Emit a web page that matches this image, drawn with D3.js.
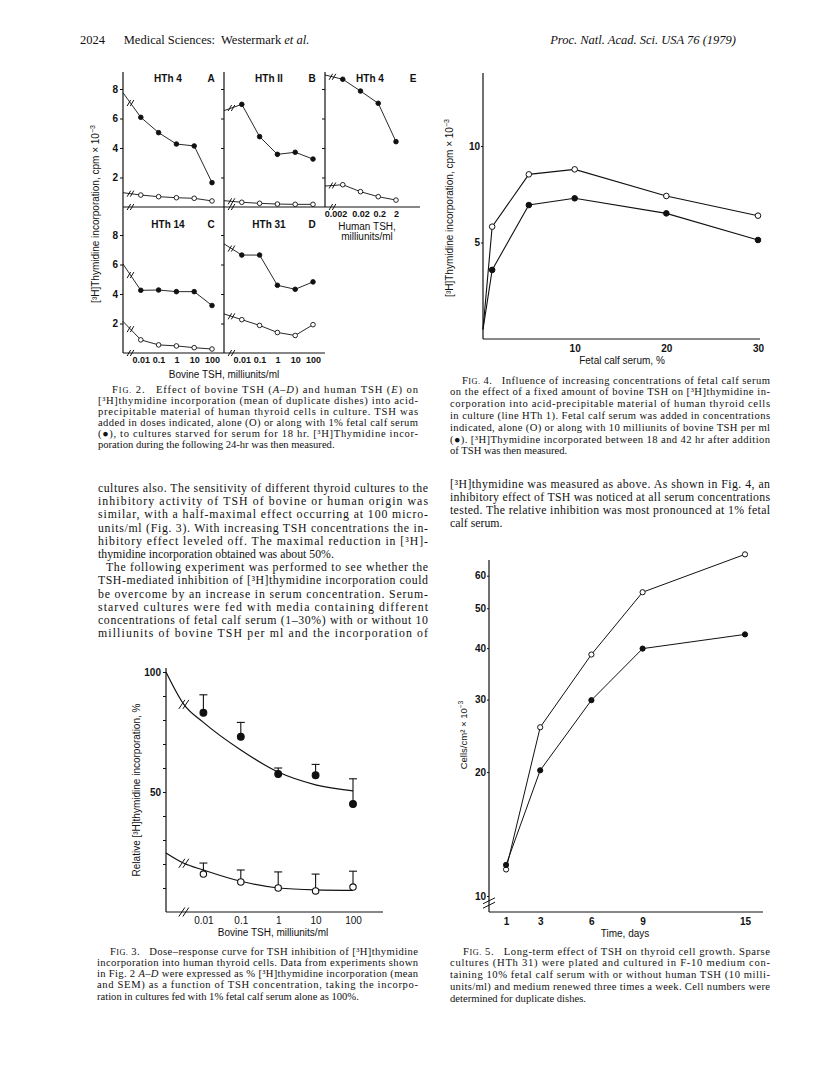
<!DOCTYPE html>
<html>
<head>
<meta charset="utf-8">
<script src="https://cdn.jsdelivr.net/npm/d3@7"></script>
<style>
  body { margin: 0; background: #fff; }
  .serif { font-family: "Liberation Serif", "DejaVu Serif", serif; white-space: pre; fill: #111; }
  .sans { font-family: "Liberation Sans", Arial, sans-serif; fill: #111; }
</style>
</head>
<body>
<div id="page"></div>
<script>
// ---- Fig. 2 data, cpm x 10^-3 (first value sits at the axis break, no marker)
var bovineDose = [0.001, 0.01, 0.1, 1, 10, 100];
var humanDose = [0.0002, 0.002, 0.02, 0.2, 2];
var hthA_serum = [7.75, 6.08, 5.04, 4.27, 4.14, 1.65];
var hthA_alone = [0.97, 0.81, 0.70, 0.63, 0.59, 0.41];
var hthB_serum = [6.53, 6.96, 4.77, 3.57, 3.71, 3.25];
var hthB_alone = [0.43, 0.32, 0.25, 0.20, 0.18, 0.18];
var hthE_serum = [8.95, 8.66, 7.86, 7.03, 4.43];
var hthE_alone = [1.42, 1.51, 1.04, 0.70, 0.47];
var hthC_serum = [6.03, 4.25, 4.27, 4.16, 4.16, 3.22];
var hthC_alone = [2.14, 0.89, 0.55, 0.48, 0.36, 0.27];
var hthD_serum = [7.40, 6.64, 6.64, 4.59, 4.32, 4.82];
var hthD_alone = [2.65, 2.26, 1.87, 1.39, 1.19, 1.92];
var panelNames = ["HTh 4", "HTh II", "HTh 4", "HTh 14", "HTh 31"];
var panelLetters = ["A", "B", "E", "C", "D"];
var fig2YTicks = [2, 4, 6, 8];
var bovineTicks = [0.01, 0.1, 1, 10, 100];
var humanTicks = [0.002, 0.02, 0.2, 2];

// ---- Fig. 3 data, relative incorporation %
var fig3Dose = [0.01, 0.1, 1, 10, 100];
var fig3SerumMean = [83, 73, 57.5, 57, 45];
var fig3SerumSem = [7.5, 6, 2.5, 4.5, 10.5];
var fig3AloneMean = [15.8, 12.5, 10, 8.8, 10.4];
var fig3AloneSem = [4.6, 5, 6.7, 7, 6.6];
var fig3CurveDose = [0.001, 0.003, 0.01, 0.1, 1, 10, 100];
var fig3SerumCurve = [100, 86.5, 79, 67.5, 58.3, 53, 50.5];
var fig3AloneCurve = [24.6, 20.3, 17.5, 12.8, 10, 9.2, 9];
var fig3YTicks = [10, 20, 30, 40, 50, 60, 70, 80, 90, 100];
var fig3YLabels = [50, 100];

// ---- Fig. 4 data, cpm x 10^-3
var serumPct = [0, 1, 5, 10, 20, 30];
var fig4Alone = [0.5, 5.82, 8.53, 8.79, 7.41, 6.39];
var fig4TSH = [0.5, 3.58, 6.94, 7.29, 6.51, 5.13];
var fig4XTicks = [10, 20, 30];
var fig4YTicks = [5, 10];

// ---- Fig. 5 data, cells/cm2 x 10^-3
var days = [1, 3, 6, 9, 15];
var fig5Alone = [11.6, 25.7, 38.6, 54.7, 67.6];
var fig5TSH = [11.9, 20.2, 29.9, 39.9, 43.2];
var fig5XTicks = [1, 3, 6, 9, 15];
var fig5YTicks = [10, 20, 30, 40, 50, 60];

var ink = "#111";

var svg = d3.select("#page")
  .append("svg")
    .attr("width", 816)
    .attr("height", 1075);

svg.append("rect").attr("width", 816).attr("height", 1075).attr("fill", "#fff");

// "//" break mark, two short strokes offset by (ox, oy)
function breakMark(g, cx, cy, w, h, ox, oy) {
  [-1, 1].forEach(function(s) {
    g.append("line")
      .attr("x1", cx + s*ox - w/2).attr("y1", cy + s*oy + h/2)
      .attr("x2", cx + s*ox + w/2).attr("y2", cy + s*oy - h/2)
      .attr("stroke", ink).attr("stroke-width", 1);
  });
}

function line(g, x1, y1, x2, y2, sw) {
  g.append("line")
    .attr("x1", x1).attr("y1", y1).attr("x2", x2).attr("y2", y2)
    .attr("stroke", ink).attr("stroke-width", sw || 1.2);
}

// *italic*  {FIG.} small caps
function addRich(t, str) {
  str.split(/(\*[^*]+\*|\{[^}]+\})/).forEach(function(part) {
    if (!part) return;
    if (part[0] === "*") {
      t.append("tspan").style("font-style", "italic").text(part.slice(1, -1));
    } else if (part[0] === "{") {
      var w = part.slice(1, -1);
      t.append("tspan").text(w[0]);
      t.append("tspan").style("font-size", "78%").text(w.slice(1));
    } else {
      t.append("tspan").text(part);
    }
  });
}

function paragraph(lines, x, y0, lead, width, size, indent, lastFull) {
  lines.forEach(function(l, i) {
    var ind = i === 0 ? indent : 0;
    var t = svg.append("text").attr("class", "serif")
      .attr("x", x + ind).attr("y", y0 + i*lead)
      .style("font-size", size + "px");
    addRich(t, l);
    if (i < lines.length - 1 || lastFull) {
      t.attr("textLength", width - ind).attr("lengthAdjust", "spacing");
    }
  });
}

function yTitle(x, y, txt, sup, size) {
  var t = svg.append("text").attr("class", "sans")
    .attr("transform", "translate(" + x + "," + y + ") rotate(-90)")
    .attr("text-anchor", "middle")
    .style("font-size", size + "px")
    .text(txt);
  if (sup) t.append("tspan").attr("dy", -4).style("font-size", (size*0.7) + "px").text(sup);
}

function styleAxis(g, size, weight) {
  g.select(".domain").remove();
  g.attr("font-family", "Liberation Sans, Arial, sans-serif")
    .attr("font-size", size)
    .attr("font-weight", weight);
  g.selectAll(".tick line").attr("stroke", ink);
  g.selectAll(".tick text").attr("fill", ink);
}

// ---------------- header
var hdr = svg.append("text").attr("class", "serif").attr("x", 80).attr("y", 44).style("font-size", "12.5px");
addRich(hdr, "2024      Medical Sciences:  Westermark *et al.*");
svg.append("text").attr("class", "serif").attr("x", 736).attr("y", 44)
  .attr("text-anchor", "end").style("font-size", "12.5px").style("font-style", "italic")
  .text("Proc. Natl. Acad. Sci. USA 76 (1979)");

// ---------------- Fig. 2
var panels = [
  {left: 123, top: 72, bottom: 207, right: 224, dose: bovineDose, serum: hthA_serum, alone: hthA_alone, yLab: true, xLab: false},
  {left: 224, top: 72, bottom: 207, right: 325, dose: bovineDose, serum: hthB_serum, alone: hthB_alone, yLab: false, xLab: false},
  {left: 325, top: 72, bottom: 207, right: 420, dose: humanDose, serum: hthE_serum, alone: hthE_alone, yLab: false, xLab: true},
  {left: 123, top: 207, bottom: 353, right: 224, dose: bovineDose, serum: hthC_serum, alone: hthC_alone, yLab: true, xLab: true},
  {left: 224, top: 207, bottom: 353, right: 325, dose: bovineDose, serum: hthD_serum, alone: hthD_alone, yLab: false, xLab: true}
];

panels.forEach(function(p, k) {
  var g = svg.append("g");
  var human = p.dose === humanDose;
  var x = d3.scaleLog()
    .domain([p.dose[0], p.dose[p.dose.length - 1]])
    .range([p.left, p.left + (human ? 71 : 89)]);
  var y = d3.scaleLinear().domain([0, 8]).range([p.bottom, p.bottom - 118]);

  line(g, p.left, p.top, p.left, p.bottom);
  line(g, p.left, p.bottom, p.right, p.bottom);

  var ya = g.append("g")
    .attr("transform", "translate(" + p.left + ",0)")
    .call(d3.axisLeft(y).tickValues(fig2YTicks).tickSize(3).tickPadding(2)
      .tickFormat(p.yLab ? d3.format("d") : function() { return ""; }));
  styleAxis(ya, 10, "bold");

  if (p.xLab) {
    var xa = g.append("g")
      .attr("transform", "translate(0," + p.bottom + ")")
      .call(d3.axisBottom(x).tickValues(human ? humanTicks : bovineTicks).tickSize(0).tickPadding(4)
        .tickFormat(function(d) { return String(d); }));
    styleAxis(xa, 9, "bold");
    if (human) {
      xa.select(".tick text").attr("text-anchor", "end").attr("dx", 4);
      xa.selectAll(".tick text").filter(function(d) { return d === 0.2; }).attr("dx", 1);
    }
  }

  // panel titles
  g.append("text").attr("class", "sans")
    .attr("x", p.left + 45).attr("y", y(8.5))
    .attr("text-anchor", "middle").style("font-size", "10px").style("font-weight", "bold")
    .text(panelNames[k]);
  g.append("text").attr("class", "sans")
    .attr("x", p.left + 88).attr("y", y(8.5))
    .attr("text-anchor", "middle").style("font-size", "10px").style("font-weight", "bold")
    .text(panelLetters[k]);

  var xb = x(p.dose[0]) + 0.42 * (x(p.dose[1]) - x(p.dose[0]));
  breakMark(g, xb, p.bottom, 3.5, 6, 1.6, 0);

  [p.alone, p.serum].forEach(function(vals, s) {
    var path = d3.line()
      .x(function(d, i) { return x(p.dose[i]); })
      .y(function(d) { return y(d); });
    g.append("path").attr("d", path(vals))
      .attr("fill", "none").attr("stroke", ink).attr("stroke-width", 0.9);
    var yb = y(vals[0]) + 0.42 * (y(vals[1]) - y(vals[0]));
    breakMark(g, xb, yb, 3.5, 6, 1.6, 0);
    g.selectAll(null).data(vals.slice(1)).enter().append("circle")
      .attr("cx", function(d, i) { return x(p.dose[i + 1]); })
      .attr("cy", function(d) { return y(d); })
      .attr("r", 2.3)
      .attr("fill", s ? ink : "#fff")
      .attr("stroke", ink).attr("stroke-width", 0.9);
  });
});

yTitle(99, 214, "[³H]Thymidine incorporation, cpm × 10", "−3", 10);
svg.append("text").attr("class", "sans").attr("x", 224).attr("y", 378)
  .attr("text-anchor", "middle").style("font-size", "10px").text("Bovine TSH, milliunits/ml");
svg.append("text").attr("class", "sans").attr("x", 367).attr("y", 230)
  .attr("text-anchor", "middle").style("font-size", "10px").text("Human TSH,");
svg.append("text").attr("class", "sans").attr("x", 367).attr("y", 240)
  .attr("text-anchor", "middle").style("font-size", "10px").text("milliunits/ml");

// ---------------- Fig. 3
var x3 = d3.scaleLog().domain([0.001, 100]).range([166, 353]);
var y3 = d3.scaleLinear().domain([0, 100]).range([912, 672]);
var g3 = svg.append("g");

line(g3, x3(0.001), y3(0), x3(0.001), y3(100) - 4);
line(g3, x3(0.001), y3(0), 383, y3(0));

var y3a = g3.append("g").attr("transform", "translate(" + x3(0.001) + ",0)")
  .call(d3.axisLeft(y3).tickValues(fig3YTicks).tickSize(3).tickPadding(2)
    .tickFormat(function(d) { return fig3YLabels.indexOf(d) >= 0 ? d : ""; }));
styleAxis(y3a, 10, "bold");

var x3a = g3.append("g").attr("transform", "translate(0," + y3(0) + ")")
  .call(d3.axisBottom(x3).tickValues(fig3Dose).tickSize(0).tickPadding(5)
    .tickFormat(function(d) { return String(d); }));
styleAxis(x3a, 10, "normal");

breakMark(g3, x3(0.003), y3(0), 6, 9, 2, 0);

[[fig3SerumCurve, fig3SerumMean, fig3SerumSem, true], [fig3AloneCurve, fig3AloneMean, fig3AloneSem, false]].forEach(function(s) {
  var curve = d3.line()
    .x(function(d, i) { return x3(fig3CurveDose[i]); })
    .y(function(d) { return y3(d); })
    .curve(d3.curveMonotoneX);
  g3.append("path").attr("d", curve(s[0]))
    .attr("fill", "none").attr("stroke", ink).attr("stroke-width", 1.2);
  breakMark(g3, x3(fig3CurveDose[1]), y3(s[0][1]), 6, 9, 2, 0);

  // SEM bars (upper only)
  s[1].forEach(function(m, i) {
    var cx = x3(fig3Dose[i]);
    line(g3, cx, y3(m), cx, y3(m + s[2][i]), 1.1);
    line(g3, cx - 4, y3(m + s[2][i]), cx + 4, y3(m + s[2][i]), 1.1);
  });
  g3.selectAll(null).data(s[1]).enter().append("circle")
    .attr("cx", function(d, i) { return x3(fig3Dose[i]); })
    .attr("cy", function(d) { return y3(d); })
    .attr("r", s[3] ? 3.4 : 3.2)
    .attr("fill", s[3] ? ink : "#fff")
    .attr("stroke", ink).attr("stroke-width", 1.1);
});

yTitle(140, 790, "Relative [³H]thymidine incorporation, %", null, 10);
svg.append("text").attr("class", "sans").attr("x", 273).attr("y", 936)
  .attr("text-anchor", "middle").style("font-size", "10px").text("Bovine TSH, milliunits/ml");

// ---------------- Fig. 4
var x4 = d3.scaleLinear().domain([0, 30]).range([483, 758]);
var y4 = d3.scaleLinear().domain([0, 10]).range([339, 146]);
var g4 = svg.append("g");

line(g4, x4(0), y4(0), x4(0), 73);
line(g4, x4(0), y4(0), 760, y4(0));

var y4a = g4.append("g").attr("transform", "translate(" + x4(0) + ",0)")
  .call(d3.axisLeft(y4).tickValues(fig4YTicks).tickSize(2).tickPadding(1));
styleAxis(y4a, 10, "bold");
var x4a = g4.append("g").attr("transform", "translate(0," + y4(0) + ")")
  .call(d3.axisBottom(x4).tickValues(fig4XTicks).tickSize(0).tickPadding(6));
styleAxis(x4a, 10, "bold");

[[fig4Alone, false], [fig4TSH, true]].forEach(function(s) {
  var path = d3.line()
    .x(function(d, i) { return x4(serumPct[i]); })
    .y(function(d) { return y4(d); });
  g4.append("path").attr("d", path(s[0]))
    .attr("fill", "none").attr("stroke", ink).attr("stroke-width", 1.1);
  g4.selectAll(null).data(s[0].slice(1)).enter().append("circle")
    .attr("cx", function(d, i) { return x4(serumPct[i + 1]); })
    .attr("cy", function(d) { return y4(d); })
    .attr("r", 2.8)
    .attr("fill", s[1] ? ink : "#fff")
    .attr("stroke", ink).attr("stroke-width", 1);
});

yTitle(453, 208, "[³H]Thymidine incorporation, cpm × 10", "−3", 10);
svg.append("text").attr("class", "sans").attr("x", 622).attr("y", 364)
  .attr("text-anchor", "middle").style("font-size", "10px").text("Fetal calf serum, %");

// ---------------- Fig. 5
var x5 = d3.scaleLinear().domain([0, 15]).range([489, 745]);
var y5 = d3.scaleLog().domain([10, 65.5]).range([896, 560]);
var g5 = svg.append("g");

line(g5, x5(0), 912, x5(0), y5(65.5));
line(g5, x5(0), 912, 763, 912);
breakMark(g5, x5(0), 903, 12, 6, 0, 2.2);

var y5a = g5.append("g").attr("transform", "translate(" + x5(0) + ",0)")
  .call(d3.axisLeft(y5).tickValues(fig5YTicks).tickSize(2).tickPadding(1).tickFormat(d3.format("d")));
styleAxis(y5a, 10, "bold");
var x5a = g5.append("g").attr("transform", "translate(0,912)")
  .call(d3.axisBottom(x5).tickValues(fig5XTicks).tickSize(0).tickPadding(6));
styleAxis(x5a, 10, "bold");

[[fig5Alone, false], [fig5TSH, true]].forEach(function(s) {
  var path = d3.line()
    .x(function(d, i) { return x5(days[i]); })
    .y(function(d) { return y5(d); });
  g5.append("path").attr("d", path(s[0]))
    .attr("fill", "none").attr("stroke", ink).attr("stroke-width", 1);
  g5.selectAll(null).data(s[0]).enter().append("circle")
    .attr("cx", function(d, i) { return x5(days[i]); })
    .attr("cy", function(d) { return y5(d); })
    .attr("r", 2.6)
    .attr("fill", s[1] ? ink : "#fff")
    .attr("stroke", ink).attr("stroke-width", 1);
});

yTitle(467, 735, "Cells/cm² × 10", "−3", 9.5);
svg.append("text").attr("class", "sans").attr("x", 625).attr("y", 937)
  .attr("text-anchor", "middle").style("font-size", "10px").text("Time, days");

// ---------------- running text and captions
paragraph([
  "{FIG.} 2.   Effect of bovine TSH (*A–D*) and human TSH (*E*) on",
  "[³H]thymidine incorporation (mean of duplicate dishes) into acid-",
  "precipitable material of human thyroid cells in culture. TSH was",
  "added in doses indicated, alone (O) or along with 1% fetal calf serum",
  "(●), to cultures starved for serum for 18 hr. [³H]Thymidine incor-",
  "poration during the following 24-hr was then measured."
], 98, 393, 11, 320, 10.6, 14, false);

paragraph([
  "cultures also. The sensitivity of different thyroid cultures to the",
  "inhibitory activity of TSH of bovine or human origin was",
  "similar, with a half-maximal effect occurring at 100 micro-",
  "units/ml (Fig. 3). With increasing TSH concentrations the in-",
  "hibitory effect leveled off. The maximal reduction in [³H]-",
  "thymidine incorporation obtained was about 50%."
], 98, 492, 13.2, 330, 11.8, 0, false);

paragraph([
  "The following experiment was performed to see whether the",
  "TSH-mediated inhibition of [³H]thymidine incorporation could",
  "be overcome by an increase in serum concentration. Serum-",
  "starved cultures were fed with media containing different",
  "concentrations of fetal calf serum (1–30%) with or without 10",
  "milliunits of bovine TSH per ml and the incorporation of"
], 98, 492 + 6*13.2, 13.2, 330, 11.8, 8, true);

paragraph([
  "{FIG.} 3.   Dose–response curve for TSH inhibition of [³H]thymidine",
  "incorporation into human thyroid cells. Data from experiments shown",
  "in Fig. 2 *A–D* were expressed as % [³H]thymidine incorporation (mean",
  "and SEM) as a function of TSH concentration, taking the incorpo-",
  "ration in cultures fed with 1% fetal calf serum alone as 100%."
], 97, 954.5, 11.3, 321, 10.6, 13, false);

paragraph([
  "{FIG.} 4.   Influence of increasing concentrations of fetal calf serum",
  "on the effect of a fixed amount of bovine TSH on [³H]thymidine in-",
  "corporation into acid-precipitable material of human thyroid cells",
  "in culture (line HTh 1). Fetal calf serum was added in concentrations",
  "indicated, alone (O) or along with 10 milliunits of bovine TSH per ml",
  "(●). [³H]Thymidine incorporated between 18 and 42 hr after addition",
  "of TSH was then measured."
], 450, 383.5, 11.8, 320, 10.6, 12, false);

paragraph([
  "[³H]thymidine was measured as above. As shown in Fig. 4, an",
  "inhibitory effect of TSH was noticed at all serum concentrations",
  "tested. The relative inhibition was most pronounced at 1% fetal",
  "calf serum."
], 450, 488, 13.1, 320, 11.8, 0, false);

paragraph([
  "{FIG.} 5.   Long-term effect of TSH on thyroid cell growth. Sparse",
  "cultures (HTh 31) were plated and cultured in F-10 medium con-",
  "taining 10% fetal calf serum with or without human TSH (10 milli-",
  "units/ml) and medium renewed three times a week. Cell numbers were",
  "determined for duplicate dishes."
], 450, 954.5, 11.8, 320, 10.6, 13, false);
</script>
</body>
</html>
